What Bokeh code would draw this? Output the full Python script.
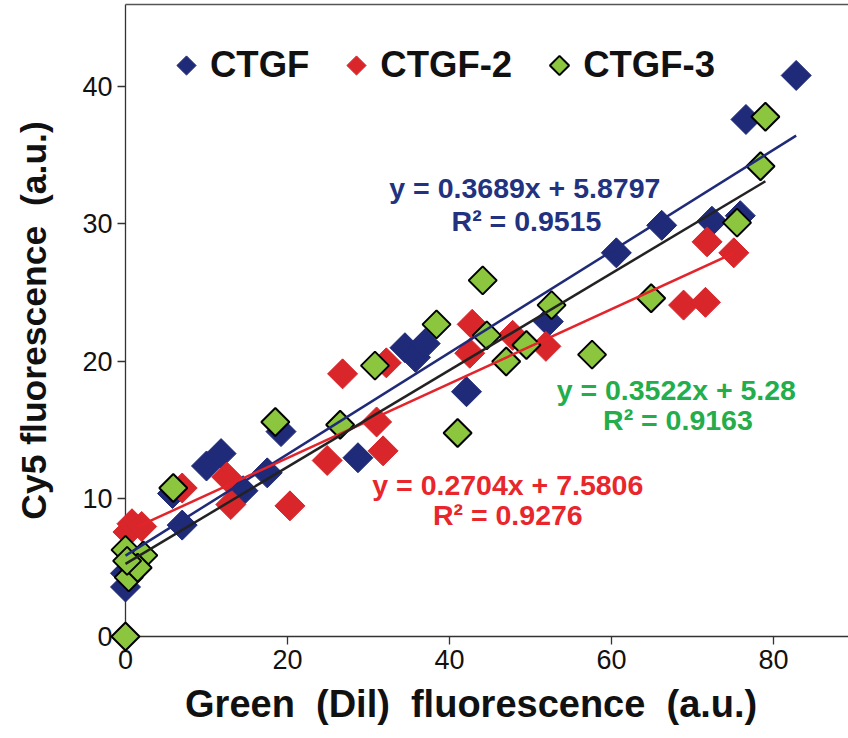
from bokeh.plotting import figure
from bokeh.models import Range1d, FixedTicker, Legend, LegendItem, Label
from bokeh.embed import file_html
from bokeh.resources import INLINE
import math

# ---- data ----
ctgf_x = [0.0, 0.0, 0.5, 5.8, 7.0, 10.0, 11.8, 14.5, 17.5, 19.2, 28.7, 34.5, 35.8, 37.0,
          42.1, 52.2, 60.6, 66.2, 72.4, 75.9, 76.6, 82.8]
ctgf_y = [3.6, 4.6, 5.5, 10.4, 8.1, 12.4, 13.3, 10.6, 11.9, 14.9, 13.0, 21.0, 20.3, 21.3,
          17.8, 22.9, 27.9, 29.9, 30.2, 30.6, 37.6, 40.8]

ctgf2_x = [0.3, 0.8, 2.0, 7.0, 12.5, 13.0, 20.3, 24.9, 26.8, 31.0, 31.8, 32.2, 42.5, 42.8,
           47.8, 51.9, 68.9, 71.6, 71.8, 75.1]
ctgf2_y = [7.6, 8.2, 8.0, 10.8, 11.6, 9.6, 9.5, 12.8, 19.1, 15.6, 13.5, 19.9, 20.6, 22.7,
           21.9, 21.1, 24.1, 24.3, 28.7, 27.9]

ctgf3_x = [0.0, 0.0, 2.2, 0.4, 1.5, 0.2, 5.9, 18.5, 26.5, 30.8, 38.4, 41.0, 44.1, 44.6,
           47.0, 49.5, 52.6, 57.6, 64.9, 75.5, 78.4, 79.0]
ctgf3_y = [0.0, 6.3, 5.9, 4.3, 5.0, 5.5, 10.8, 15.6, 15.4, 19.7, 22.7, 14.8, 25.9, 21.9,
           20.0, 21.2, 24.1, 20.5, 24.6, 30.1, 34.2, 37.8]

series_names = ["CTGF", "CTGF-2", "CTGF-3"]
fit_slope = [0.3689, 0.2704, 0.3522]
fit_intercept = [5.8797, 7.5806, 5.28]
fit_r2 = ["0.9515", "0.9276", "0.9163"]
fit_xrange = [(0.0, 82.8), (1.5, 75.1), (0.0, 79.0)]

x_ticks = [0, 20, 40, 60, 80]
y_ticks = [0, 10, 20, 30, 40]

x_title = "Green\u00a0 (Dil)\u00a0 fluorescence\u00a0 (a.u.)\u00a0\u00a0\u00a0"
y_title = "Cy5 fluorescence\u00a0 (a.u.)"

# ---- styles ----
BLUE = "#1f2a78"
RED = "#d9262b"
GREEN = "#8cc63f"
BLUE_TXT = "#22327f"
RED_TXT = "#e8262b"
GREEN_TXT = "#23ad4b"
FONT = "Liberation Sans"

X0, X1 = 0.0, 89.26
Y0, Y1 = 0.0, 45.96

p = figure(width=848, height=738, output_backend="svg", toolbar_location=None,
           x_range=Range1d(X0, X1), y_range=Range1d(Y0, Y1),
           min_border_left=125, min_border_right=0, min_border_top=4,
           min_border_bottom=102)
p.outline_line_color = None
p.grid.visible = False
p.background_fill_color = "white"

for ax in (p.xaxis[0], p.yaxis[0]):
    ax.axis_line_color = "#333333"
    ax.axis_line_width = 1.3
    ax.major_tick_line_color = "#333333"
    ax.major_tick_line_width = 1.3
    ax.major_tick_in = 0
    ax.major_tick_out = 8
    ax.minor_tick_line_color = None
    ax.major_label_text_font = FONT
    ax.major_label_text_font_size = "27px"
    ax.major_label_text_color = "#111111"
    ax.axis_label_text_font = FONT
    ax.axis_label_text_font_style = "bold"
    ax.axis_label_text_color = "#111111"

p.xaxis[0].ticker = FixedTicker(ticks=x_ticks)
p.yaxis[0].ticker = FixedTicker(ticks=y_ticks)
p.xaxis[0].major_label_standoff = 5
p.yaxis[0].major_label_standoff = 5
p.xaxis[0].axis_label = x_title
p.yaxis[0].axis_label = y_title
p.xaxis[0].axis_label_text_font_size = "38px"
p.yaxis[0].axis_label_text_font_size = "35.5px"
p.xaxis[0].axis_label_standoff = 11
p.yaxis[0].axis_label_standoff = 25

# top border of the plot area
top = p.segment(x0=[0], y0=[Y1], x1=[X1], y1=[Y1], line_color="#555555", line_width=1.3)
top.level = "overlay"

try:
    from bokeh.models import Ngon  # noqa: F401
    HAS_NGON = True
except ImportError:
    HAS_NGON = False


def diamonds(xs, ys, r, fill, line, lw):
    if HAS_NGON:
        rend = p.ngon(x=xs, y=ys, radius=r, radius_units="screen", n=4,
                      fill_color=fill, line_color=line, line_width=lw)
    else:
        rend = p.scatter(xs, ys, marker="square", angle=math.pi / 4, size=r * 1.414,
                         fill_color=fill, line_color=line, line_width=lw)
    rend.level = "overlay"
    return rend


rb = diamonds(ctgf_x, ctgf_y, 15, BLUE, BLUE, 1)
rr = diamonds(ctgf2_x, ctgf2_y, 15, RED, RED, 1)
rg = diamonds(ctgf3_x, ctgf3_y, 14, GREEN, "black", 2)

line_colors = [BLUE, "#e3242b", "#222222"]
for i in range(3):
    xa, xb = fit_xrange[i]
    xs = [xa, xb]
    ys = [fit_slope[i] * v + fit_intercept[i] for v in xs]
    ln = p.line(xs, ys, line_color=line_colors[i], line_width=2.5)
    ln.level = "overlay"

# regression equation labels (two centred lines each)
eq_specs = [
    (49.3, 32.65, 49.5, 30.25, BLUE_TXT, 0),
    (47.2, 11.05, 47.2, 8.85, RED_TXT, 1),
    (68.0, 17.89, 68.2, 15.71, GREEN_TXT, 2),
]
for (x1, y1, x2, y2, col, i) in eq_specs:
    eq = f"y = {fit_slope[i]}x + {fit_intercept[i]}"
    p.add_layout(Label(x=x1, y=y1, text=eq, text_font=FONT, text_font_style="bold",
                       text_font_size="28.5px", text_color=col, text_align="center",
                       text_baseline="middle"))
    p.add_layout(Label(x=x2, y=y2, text=f"R² = {fit_r2[i]}", text_font=FONT,
                       text_font_style="bold", text_font_size="28.5px", text_color=col,
                       text_align="center", text_baseline="middle"))

legend = Legend(items=[LegendItem(label=series_names[0], renderers=[rb]),
                       LegendItem(label=series_names[1], renderers=[rr]),
                       LegendItem(label=series_names[2], renderers=[rg])],
                orientation="horizontal", location=(37, 547), padding=0, margin=0,
                spacing=23, glyph_width=48, glyph_height=48, label_height=48,
                label_standoff=0, border_line_color=None, background_fill_alpha=0,
                label_text_font=FONT, label_text_font_style="bold",
                label_text_font_size="36.5px", label_text_color="#111111")
p.add_layout(legend)

open("out.html", "w").write(file_html(p, INLINE))
